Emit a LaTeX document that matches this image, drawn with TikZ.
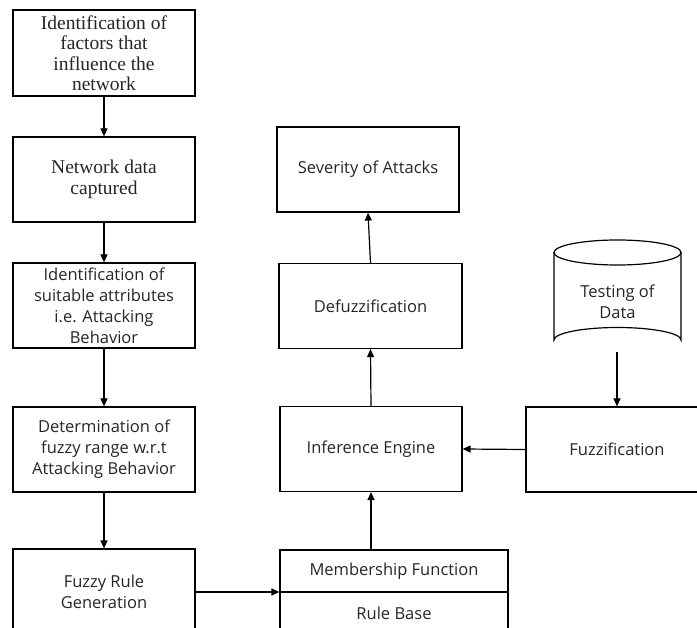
\documentclass[tikz,border=0pt]{standalone}
\usepackage{fontspec}
\setmainfont{Open Sans}
\newfontfamily\serifface{Liberation Serif}
\usetikzlibrary{arrows.meta}
\begin{document}
\begin{tikzpicture}[x=1pt,y=-1pt,
  box/.style={draw=black, line width=1.2pt, rectangle, minimum width=182pt, minimum height=85pt, align=center, text=black!85, font=\fontsize{16.5}{21}\selectfont, inner sep=1pt},
  sbox/.style={box, font=\serifface\fontsize{19.5}{20.5}\selectfont},
  plain/.style={text=black!85, font=\fontsize{16.5}{21}\selectfont, align=center},
  arr/.style={line width=1.2pt, -{Triangle[length=8pt,width=7pt]}}]
\useasboundingbox (0,0) rectangle (697,628);
\clip (0,0) rectangle (697,628);
\fill[white] (0,0) rectangle (697,628);
% left column
\node[sbox, minimum height=86pt] (b1) at (104,53) {Identification of\\factors that\\influence the\\network};
\node[sbox] (b2) at (104,179.5) {Network data\\captured};
\node[box] (b3) at (104,305.5) {Identification of\\suitable attributes\\i.e. Attacking\\Behavior};
\node[box] (b4) at (104,449.5) {Determination of\\fuzzy range w.r.t\\Attacking Behavior};
\node[box, minimum height=86pt] (b5) at (104,592) {Fuzzy Rule\\Generation};
% middle column
\node[box] (sev) at (368,169.5) {Severity of Attacks};
\node[box, minimum width=183pt] (def) at (370.5,306) {Defuzzification};
\node[box] (inf) at (371,449) {Inference Engine};
\node[box, minimum width=228pt, minimum height=42pt] (mf) at (394,571) {Membership Function};
\node[box, minimum width=228pt, minimum height=42pt] (rb) at (394,613) {Rule Base};
% right column
\node[box] (fuz) at (617,449.5) {Fuzzification};
\draw[line width=1.2pt] (554,252.5) -- (554,340) arc[start angle=180, end angle=360, x radius=63.5, y radius=12.5] -- (681,252.5);
\draw[line width=1.2pt] (617.5,252.5) ellipse[x radius=63.5, y radius=12.5];
\node[plain] (td) at (617.5,302) {Testing of\\Data};
\coordinate (tdbot) at (617,352.5);
% connectors
\draw[arr] (b1.south) -- (b2.north);
\draw[arr] (b2.south) -- (b3.north);
\draw[arr] (b3.south) -- (b4.north);
\draw[arr] (b4.south) -- (b5.north);
\draw[arr] (b5.east) -- (b5.east -| mf.west);
\draw[arr] (mf.north -| inf.south) -- (inf.south);
\draw[arr] (inf.north) -- (def.south);
\draw[arr] (def.north) -- (sev.south);
\draw[arr] (tdbot) -- (tdbot |- fuz.north);
\draw[arr] (fuz.west) -- (inf.east);
\end{tikzpicture}
\end{document}
